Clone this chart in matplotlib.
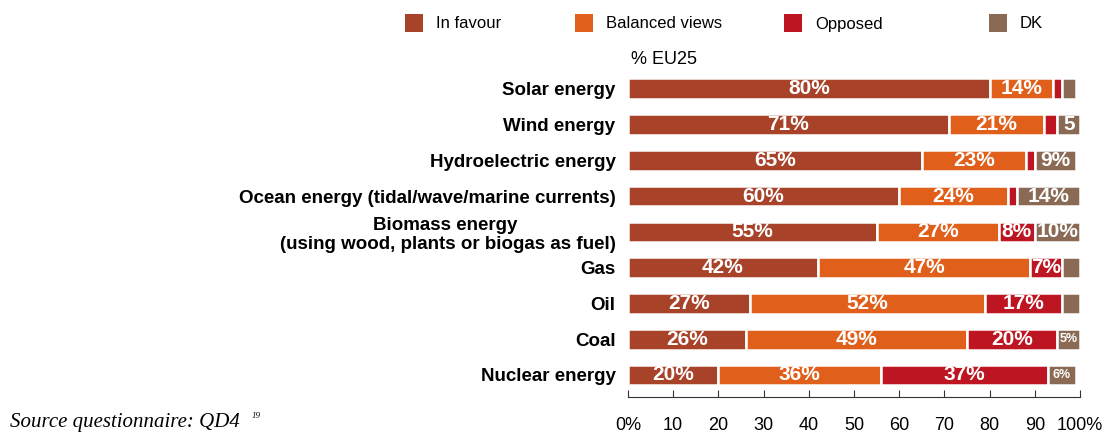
import matplotlib.pyplot as plt
from matplotlib.patches import Rectangle
import numpy as np

categories = ["Solar energy", "Wind energy", "Hydroelectric energy",
              "Ocean energy (tidal/wave/marine currents)",
              "Biomass energy \n(using wood, plants or biogas as fuel)",
              "Gas", "Oil", "Coal", "Nuclear energy"]
in_favour = [80, 71, 65, 60, 55, 42, 27, 26, 20]
balanced = [14, 21, 23, 24, 27, 47, 52, 49, 36]
opposed = [2, 3, 2, 2, 8, 7, 17, 20, 37]
dk = [3, 5, 9, 14, 10, 4, 4, 5, 6]
series_names = ["In favour", "Balanced views", "Opposed", "DK"]
colors = ["#A8432A", "#E0601B", "#BD1622", "#8A6A55"]
tick_labels = ["0%", "10", "20", "30", "40", "50", "60", "70", "80", "90", "100%"]

# special label text (narrow segment)
label_override = {(1, 3): "5"}

plt.rcParams['font.family'] = ['Liberation Sans', 'DejaVu Sans']

fig = plt.figure(figsize=(11.17, 4.34), dpi=100)
ax = fig.add_axes([0.5622, 0.085, 0.4047, 0.754])

y = np.arange(len(categories))
left = np.zeros(len(categories))
for si, (vals, col) in enumerate(zip([in_favour, balanced, opposed, dk], colors)):
    vals = np.array(vals, dtype=float)
    ax.barh(y, vals, left=left, height=0.58, color=col, edgecolor="white", linewidth=1.8)
    for i, v in enumerate(vals):
        txt = label_override.get((i, si))
        size = 15
        if txt is None:
            if v < 5:
                continue
            txt = f"{int(v)}%"
            if v < 7:
                size = 9
        ax.text(left[i] + v / 2, y[i], txt, ha="center", va="center", color="white",
                fontsize=size, fontweight="bold")
    left += vals

ax.set_xlim(0, 100)
ax.set_ylim(8.62, -0.53)
ax.set_yticks(y)
ax.set_yticklabels(categories, fontsize=13.5, fontweight="bold", multialignment="center")
ax.tick_params(axis="y", length=0, pad=9)
ax.set_xticks(np.arange(0, 101, 10))
ax.set_xticklabels(tick_labels, fontsize=13)
ax.tick_params(axis="x", direction="in", length=5, pad=14, color="#333333")
for s in ["top", "right", "left"]:
    ax.spines[s].set_visible(False)
ax.spines["bottom"].set_color("#333333")

# legend
leg_x = [405, 575, 784, 989]
for name, col, lx in zip(series_names, colors, leg_x):
    fig.patches.append(Rectangle((lx / 1117, 1 - 32 / 434), 18 / 1117, 18 / 434,
                                 transform=fig.transFigure, facecolor=col, edgecolor="none"))
    fig.text((lx + 31) / 1117, 1 - 24 / 434, name, fontsize=12, va="center", ha="left")

fig.text(631 / 1117, 1 - 59 / 434, "% EU25", fontsize=13, va="center", ha="left")
src = fig.text(10 / 1117, 1 - 423 / 434, "Source questionnaire: QD4", fontsize=15,
               style="italic", family=["Liberation Serif", "DejaVu Serif"], va="center", ha="left")
fig.text(252 / 1117, 1 - 416 / 434, "19", fontsize=6.5, style="italic",
         family=["Liberation Serif", "DejaVu Serif"], va="center", ha="left")

fig.savefig("out.png", dpi=100)
